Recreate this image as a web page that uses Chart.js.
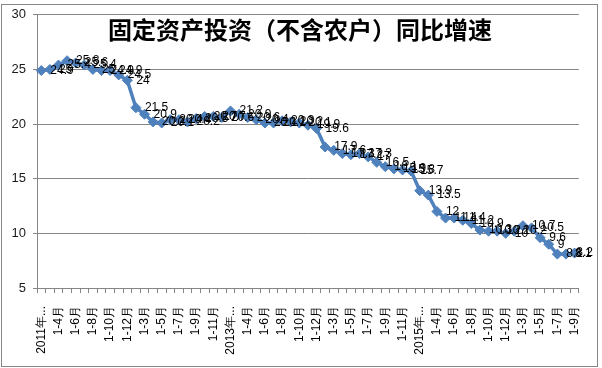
<!DOCTYPE html>
<html>
<head>
<meta charset="utf-8">
<title>固定资产投资（不含农户）同比增速</title>
<script src="https://cdn.jsdelivr.net/npm/chart.js@4.4.1/dist/chart.umd.min.js"></script>
<style>
  html, body { margin: 0; padding: 0; background: #fff; }
  canvas { display: block; }
</style>
</head>
<body>
<canvas id="canvas-1" width="602" height="368"></canvas>
<script>
'use strict';

var chartTitle = '固定资产投资（不含农户）同比增速';
var years = ['2011', '2012', '2013', '2014', '2015', '2016'];
var periods = ['1-2月', '1-3月', '1-4月', '1-5月', '1-6月', '1-7月', '1-8月', '1-9月', '1-10月', '1-11月', '1-12月'];
var yTicks = [5, 10, 15, 20, 25, 30];

// 累计同比增速 %
var v2011 = [24.9, 25, 25.4, 25.8, 25.6, 25.4, 25, 24.9, 24.9, 24.5, 24];
var v2012 = [21.5, 20.9, 20.2, 20.1, 20.4, 20.4, 20.2, 20.5, 20.7, 20.7, 20.6];
var v2013 = [21.2, 20.9, 20.6, 20.4, 20.1, 20.1, 20.3, 20.2, 20.1, 19.9, 19.6];
var v2014 = [17.9, 17.6, 17.3, 17.2, 17.3, 17, 16.5, 16.1, 15.9, 15.8, 15.7];
var v2015 = [13.9, 13.5, 12, 11.4, 11.4, 11.2, 10.9, 10.3, 10.2, 10.2, 10];
var v2016 = [10.2, 10.7, 10.5, 9.6, 9, 8.1, 8.1, 8.2];

var byYear = [v2011, v2012, v2013, v2014, v2015, v2016];
var labels = [];
var values = [];
byYear.forEach(function (arr, i) {
  arr.forEach(function (v, j) {
    labels.push(j === 0 ? years[i] + '年' + periods[j] : periods[j]);
    values.push(v);
  });
});

var blue = '#4F81BD';
var gridGray = '#868686';

var framePlugin = {
  id: 'frame',
  beforeDraw: function (chart) {
    var c = chart.ctx;
    c.save();
    c.fillStyle = '#fff';
    c.fillRect(0, 0, chart.width, chart.height);
    c.restore();
  },
  afterDraw: function (chart) {
    var c = chart.ctx;
    c.save();
    c.strokeStyle = gridGray;
    c.lineWidth = 1;
    c.strokeRect(1.5, 4.5, 596, 362);
    // title sits inside the plot area
    c.fillStyle = '#000';
    c.font = 'bold 24px "Noto Sans CJK SC", serif';
    c.textAlign = 'center';
    c.textBaseline = 'middle';
    c.fillText(chartTitle, 300, 30);
    c.restore();
  }
};

var valueLabels = {
  id: 'valueLabels',
  afterDatasetsDraw: function (chart) {
    var c = chart.ctx;
    var meta = chart.getDatasetMeta(0);
    c.save();
    c.fillStyle = '#000';
    c.font = '12px "Liberation Sans", Arial, sans-serif';
    c.textAlign = 'left';
    c.textBaseline = 'middle';
    meta.data.forEach(function (pt, i) {
      var s = String(values[i]);
      var x = Math.min(pt.x + 9, 593 - c.measureText(s).width);
      c.fillText(s, x, pt.y);
    });
    c.restore();
  }
};

var ctx = document.getElementById('canvas-1');
var chart = new Chart(ctx, {
  type: 'line',
  data: {
    labels: labels,
    datasets: [{
      label: '同比增速',
      data: values,
      borderColor: blue,
      backgroundColor: blue,
      borderWidth: 3.5,
      tension: 0,
      pointStyle: 'rectRot',
      pointRadius: 5,
      pointBorderWidth: 1,
      pointBackgroundColor: blue,
      pointBorderColor: blue
    }]
  },
  options: {
    responsive: false,
    animation: false,
    layout: { padding: { top: 13, right: 6, left: 0, bottom: 0 } },
    plugins: {
      legend: { display: false },
      title: { display: false },
      tooltip: { enabled: false }
    },
    scales: {
      x: {
        offset: true,
        grid: { offset: true, drawOnChartArea: false, drawTicks: true, tickLength: 5, color: gridGray },
        border: { color: gridGray },
        ticks: {
          autoSkip: false,
          maxRotation: 90,
          minRotation: 90,
          padding: 13,
          color: '#000',
          font: { family: '"Liberation Sans", Arial, sans-serif', size: 12 },
          callback: function (val, i) {
            if (i % 2 !== 0) return '';
            var s = this.getLabelForValue(val);
            var k = s.indexOf('年');
            return k >= 0 ? s.slice(0, k + 1) + '...' : s;
          }
        },
        afterFit: function (scale) { scale.height = 80; }
      },
      y: {
        min: 5,
        max: 30,
        afterBuildTicks: function (scale) {
          scale.ticks = yTicks.map(function (v) { return { value: v }; });
        },
        grid: { color: gridGray, tickLength: 4 },
        border: { color: gridGray },
        ticks: {
          padding: 7,
          color: '#1a1a1a',
          font: { family: '"Liberation Sans", Arial, sans-serif', size: 13 }
        },
        afterFit: function (scale) { scale.width = 37; }
      }
    }
  },
  plugins: [framePlugin, valueLabels]
});
</script>
</body>
</html>
